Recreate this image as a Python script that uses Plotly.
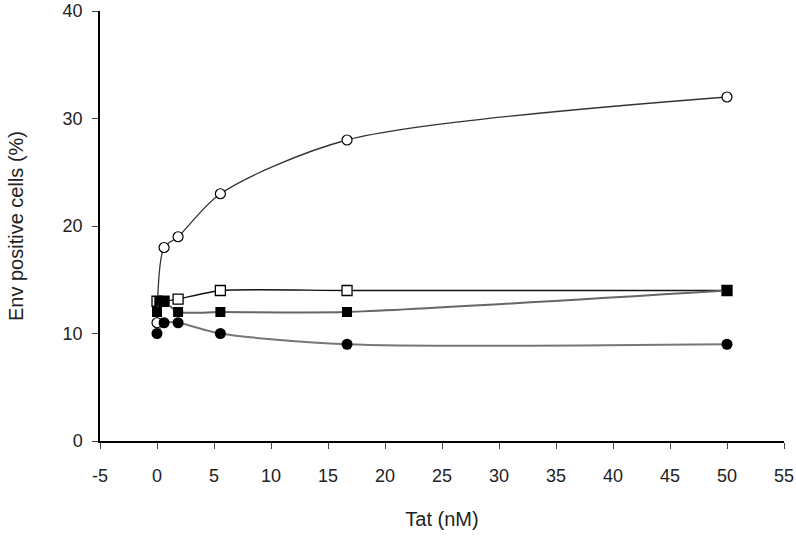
import plotly.graph_objects as go

tat = [0, 0.62, 1.85, 5.56, 16.67, 50]

open_circle = [11, 18, 19, 23, 28, 32]
filled_circle = [10, 11, 11, 10, 9, 9]
open_square = [13, 13, 13.2, 14, 14, 14]
filled_square_x = [0, 0.2, 0.62, 1.85, 5.56, 16.67, 50]
filled_square = [12, 13, 13, 12, 12, 12, 14]

x_ticks = [-5, 0, 5, 10, 15, 20, 25, 30, 35, 40, 45, 50, 55]
x_labels = [str(v) for v in x_ticks]

fig = go.Figure()

# order matters: later traces sit on top near x = 0
fig.add_trace(go.Scatter(
    x=tat, y=open_square, mode='lines+markers', name='open square',
    line=dict(color='#111111', width=1.3, shape='spline', smoothing=0.6),
    marker=dict(symbol='square', size=10, color='white', line=dict(color='black', width=1.3))
))
fig.add_trace(go.Scatter(
    x=tat, y=open_circle, mode='lines+markers', name='open circle',
    line=dict(color='#333333', width=1.3, shape='spline', smoothing=0.8),
    marker=dict(symbol='circle', size=10, color='white', line=dict(color='black', width=1.2))
))
fig.add_trace(go.Scatter(
    x=tat, y=filled_circle, mode='lines+markers', name='filled circle',
    line=dict(color='#777777', width=2, shape='spline', smoothing=0.8),
    marker=dict(symbol='circle', size=11, color='black')
))
fig.add_trace(go.Scatter(
    x=filled_square_x, y=filled_square, mode='lines+markers', name='filled square',
    line=dict(color='#666666', width=2, shape='spline', smoothing=0.6),
    marker=dict(symbol='square', size=10, color='black')
))

fig.update_layout(
    width=796, height=536,
    paper_bgcolor='white', plot_bgcolor='white',
    margin=dict(l=100, r=12, t=11, b=95, autoexpand=False),
    showlegend=False,
    font=dict(family='Liberation Sans, Arial, sans-serif', size=18, color='#222222'),
    xaxis=dict(
        range=[-5, 55], tickvals=x_ticks, ticktext=x_labels,
        showgrid=False, zeroline=False,
        showline=True, linecolor='black', linewidth=1.5,
        ticks='outside', ticklen=6, tickcolor='#444444',
        ticklabelstandoff=12,
        title=dict(text='Tat (nM)', font=dict(size=20), standoff=27)
    ),
    yaxis=dict(
        range=[0, 40], tickmode='linear', tick0=0, dtick=10,
        showgrid=False, zeroline=False,
        showline=True, linecolor='black', linewidth=1.5,
        ticks='outside', ticklen=6, tickcolor='#444444',
        ticklabelstandoff=6,
        title=dict(text='Env positive cells (%)', font=dict(size=20), standoff=34)
    )
)

# drop the default 8px body margin so the figure fills the window exactly
fig.write_html(
    "out.html",
    config={'displayModeBar': False},
    post_script="document.body.style.margin='0';"
)
